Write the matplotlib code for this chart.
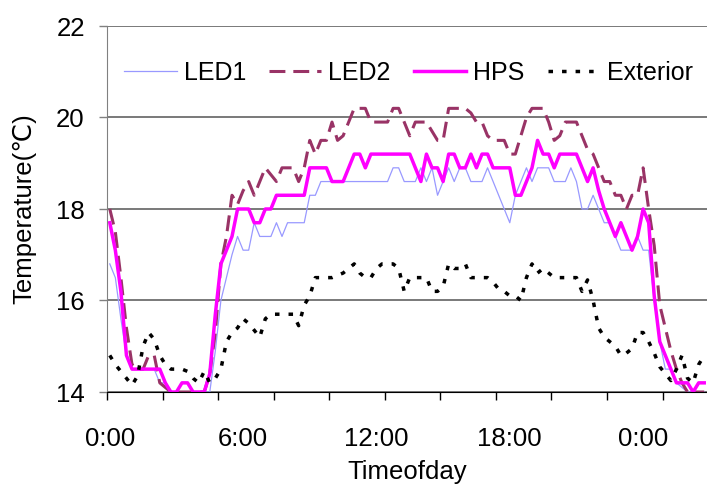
import numpy as np
import matplotlib
matplotlib.use("Agg")
import matplotlib.pyplot as plt
from matplotlib.ticker import FixedLocator

plt.rcParams['font.family'] = ['Liberation Sans', 'DejaVu Sans']
plt.rcParams['font.size'] = 18.5

# readings every 15 min, starting at 0:00 (108 samples, ~27 h)
STEP_H = 0.25

LED1 = [16.8, 16.5, 15.6, 14.8, 14.5, 14.5, 14.5, 14.5, 14.5, 14.2,
        14.2, 14.0, 14.0, 14.0, 14.0, 14.0, 14.0, 14.0, 14.0, 14.9,
        16.0, 16.5, 17.0, 17.4, 17.1, 17.1, 17.7, 17.4, 17.4, 17.4,
        17.7, 17.4, 17.7, 17.7, 17.7, 17.7, 18.3, 18.3, 18.6, 18.6,
        18.6, 18.6, 18.6, 18.6, 18.6, 18.6, 18.6, 18.6, 18.6, 18.6,
        18.6, 18.9, 18.9, 18.6, 18.6, 18.6, 18.9, 18.6, 18.9, 18.3,
        18.6, 18.9, 18.6, 18.9, 18.9, 18.6, 18.6, 18.6, 18.9, 18.6,
        18.3, 18.0, 17.7, 18.3, 18.6, 18.9, 18.6, 18.9, 18.9, 18.9,
        18.6, 18.6, 18.6, 18.9, 18.6, 18.0, 18.0, 18.3, 18.0, 17.7,
        17.7, 17.4, 17.1, 17.1, 17.1, 17.4, 17.1, 17.1, 16.0, 15.1,
        14.5, 14.5, 14.2, 14.1, 14.0, 14.0, 14.0, 14.0]

LED2 = [18.0, 17.5, 16.5, 15.4, 14.6, 14.5, 14.5, 14.8, 14.8, 14.2,
        14.1, 14.0, 14.0, 14.0, 14.0, 14.0, 14.0, 14.0, 14.4, 15.3,
        16.8, 17.4, 18.3, 18.1, 18.4, 18.6, 18.3, 18.6, 18.9, 18.75,
        18.6, 18.9, 18.9, 18.9, 18.6, 18.9, 19.5, 19.2, 19.5, 19.5,
        19.9, 19.5, 19.6, 19.9, 20.2, 20.2, 20.2, 19.9, 19.9, 19.9,
        19.9, 20.2, 20.2, 19.9, 19.6, 19.9, 19.9, 19.9, 19.7, 19.5,
        19.5, 20.2, 20.2, 20.2, 20.2, 20.1, 19.9, 19.9, 19.6, 19.5,
        19.5, 19.5, 19.2, 19.2, 19.6, 20.0, 20.2, 20.2, 20.2, 19.9,
        19.5, 19.6, 19.9, 19.9, 19.9, 19.6, 19.3, 19.2, 18.9, 18.6,
        18.6, 18.3, 18.3, 18.0, 18.3, 18.3, 18.9, 18.0, 17.2, 15.9,
        15.4, 14.9, 14.5, 14.2, 14.0, 14.0, 14.0, 14.0]

HPS = [17.7, 17.1, 16.2, 14.8, 14.5, 14.5, 14.5, 14.5, 14.5, 14.5,
       14.2, 14.0, 14.0, 14.2, 14.2, 14.0, 14.0, 14.0, 14.4, 15.7,
       16.8, 17.1, 17.4, 18.0, 18.0, 18.0, 17.7, 17.7, 18.0, 18.0,
       18.3, 18.3, 18.3, 18.3, 18.3, 18.3, 18.9, 18.9, 18.9, 18.9,
       18.6, 18.6, 18.6, 18.9, 19.2, 19.2, 18.9, 19.2, 19.2, 19.2,
       19.2, 19.2, 19.2, 19.2, 19.2, 18.9, 18.6, 19.2, 18.9, 18.9,
       18.6, 19.2, 19.2, 18.9, 18.9, 19.2, 18.9, 19.2, 19.2, 18.9,
       18.9, 18.9, 18.9, 18.3, 18.3, 18.6, 18.9, 19.5, 19.2, 19.2,
       18.9, 19.2, 19.2, 19.2, 19.2, 18.9, 18.6, 18.9, 18.4, 18.0,
       17.7, 17.4, 17.7, 17.4, 17.1, 17.4, 18.0, 17.7, 16.1, 15.1,
       14.8, 14.5, 14.2, 14.2, 14.2, 14.0, 14.2, 14.2]

EXTERIOR = [14.8, 14.6, 14.45, 14.3, 14.15, 14.35, 15.0, 15.3, 15.15, 14.8,
            14.6, 14.5, 14.5, 14.5, 14.45, 14.3, 14.2, 14.45, 14.2, 14.3,
            14.5, 15.1, 15.3, 15.4, 15.6, 15.5, 15.35, 15.2, 15.6, 15.7,
            15.7, 15.7, 15.7, 15.7, 15.45, 15.9, 16.1, 16.5, 16.5, 16.5,
            16.5, 16.55, 16.6, 16.7, 16.8, 16.6, 16.5, 16.5, 16.7, 16.8,
            16.8, 16.8, 16.7, 16.2, 16.5, 16.5, 16.5, 16.5, 16.2, 16.2,
            16.3, 16.8, 16.7, 16.7, 16.8, 16.5, 16.5, 16.5, 16.5, 16.4,
            16.25, 16.2, 16.1, 16.1, 16.0, 16.5, 16.8, 16.6, 16.7, 16.6,
            16.5, 16.5, 16.5, 16.5, 16.5, 16.2, 16.45, 16.0, 15.4, 15.2,
            15.1, 15.0, 14.8, 14.85, 14.95, 15.3, 15.3, 15.1, 14.85, 14.55,
            14.4, 14.25, 14.5, 14.8, 14.3, 14.2, 14.6, 14.8]

TICK_HOURS = [0, 6, 12, 18, 24]
TICK_LABELS = ['0:00', '6:00', '12:00', '18:00', '0:00']

hours = np.arange(len(HPS)) * STEP_H

fig = plt.figure(figsize=(7.07, 4.86), dpi=100)
ax = fig.add_axes([107 / 707, 94 / 486, 600 / 707, 366 / 486])

ax.plot(hours, LED1, color='#9999FF', lw=0.9, label='LED1')
ax.plot(hours, LED2, color='#993366', lw=2.2, dashes=(5.2, 2.6), label='LED2')
ax.plot(hours, HPS, color='#FF00FF', lw=2.5, label='HPS')
ax.plot(hours, EXTERIOR, color='black', lw=2.5, dashes=(1.3, 2.6), label='Exterior')

ax.set_xlim(-0.125, 26.875)
ax.set_ylim(14, 22)
ax.set_yticks([14, 16, 18, 20, 22])
ax.yaxis.grid(True, color='#555555', lw=1.1)
ax.set_axisbelow(True)

ax.set_xticks(TICK_HOURS)
ax.set_xticklabels(TICK_LABELS)
ax.xaxis.set_minor_locator(FixedLocator(np.arange(-0.125, 27, 2.5)))
ax.tick_params(axis='x', which='major', length=0, pad=25)
ax.tick_params(axis='x', which='minor', length=6, width=1, direction='out')
ax.tick_params(axis='y', length=6, width=1, color='#808080', pad=10)

for s in ['top', 'right']:
    ax.spines[s].set_visible(False)
ax.spines['left'].set_color('#808080')
ax.spines['bottom'].set_color('black')

ax.set_xlabel('Timeofday', labelpad=7)
ax.set_ylabel('Temperature(℃)', labelpad=14)

ax.legend(ncol=4, frameon=False, loc='center left',
          bbox_to_anchor=(124 / 707, 1 - 72.5 / 486), bbox_transform=fig.transFigure,
          borderpad=0, borderaxespad=0, handlelength=2.1, handletextpad=0.28,
          columnspacing=0.92, fontsize=18)

fig.savefig('out.png', dpi=100)
